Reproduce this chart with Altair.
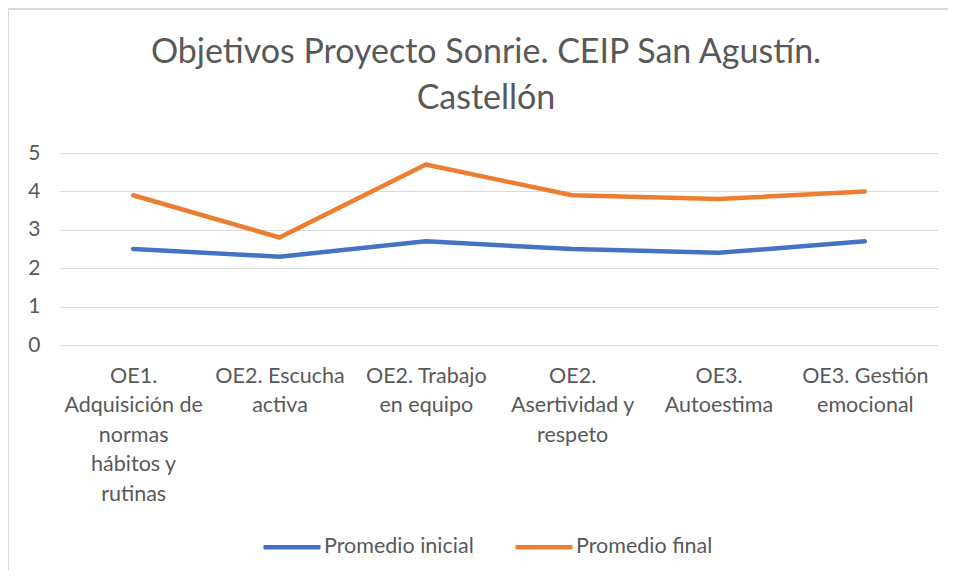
import altair as alt
import pandas as pd

categories = [
    "OE1. Adquisición de normas hábitos y rutinas",
    "OE2. Escucha activa",
    "OE2. Trabajo en equipo",
    "OE2. Asertividad y respeto",
    "OE3. Autoestima",
    "OE3. Gestión emocional",
]
label_lines = [
    ["OE1.", "Adquisición de", "normas", "hábitos y", "rutinas"],
    ["OE2. Escucha", "activa"],
    ["OE2. Trabajo", "en equipo"],
    ["OE2.", "Asertividad y", "respeto"],
    ["OE3.", "Autoestima"],
    ["OE3. Gestión", "emocional"],
]
series_names = ["Promedio inicial", "Promedio final"]
promedio_inicial = [2.5, 2.3, 2.7, 2.5, 2.4, 2.7]
promedio_final = [3.9, 2.8, 4.7, 3.9, 3.8, 4.0]
colors = ["#4472C4", "#ED7D31"]

rows = []
for i, c in enumerate(categories):
    rows.append({"cat": c, "serie": series_names[0], "valor": promedio_inicial[i], "order": i})
    rows.append({"cat": c, "serie": series_names[1], "valor": promedio_final[i], "order": i})
df = pd.DataFrame(rows)

mapping = "{" + ", ".join(
    "'" + c + "': [" + ", ".join("'" + l + "'" for l in lines) + "]"
    for c, lines in zip(categories, label_lines)
) + "}"
label_expr = mapping + "[datum.label]"

FONT = "Lato"
GRAY = "#595959"
BORDER = "#D9D9D9"

lines = alt.Chart(df).mark_line(strokeWidth=4.5, strokeCap="round", strokeJoin="round").encode(
    x=alt.X("cat:N", sort=categories, title=None,
            scale=alt.Scale(type="point", padding=0.5),
            axis=alt.Axis(labelExpr=label_expr, labelAngle=0, labelFontSize=21.5,
                          labelLineHeight=29.5, labelPadding=20, ticks=False,
                          domain=False, grid=False, labelColor=GRAY, labelFont=FONT)),
    y=alt.Y("valor:Q", title=None,
            scale=alt.Scale(domain=[0, 5], nice=False),
            axis=alt.Axis(values=[0, 1, 2, 3, 4, 5], labelFontSize=21, labelPadding=20,
                          ticks=False, domain=False, gridColor="#D9D9D9", gridWidth=1,
                          labelColor=GRAY, labelFont=FONT)),
    color=alt.Color("serie:N", sort=series_names,
                    scale=alt.Scale(domain=series_names, range=colors),
                    legend=alt.Legend(title=None, orient="none", direction="horizontal",
                                      legendX=201, legendY=363, symbolType="stroke",
                                      symbolSize=3249, symbolStrokeWidth=4.5,
                                      labelFontSize=21.5, labelColor=GRAY, labelFont=FONT,
                                      columnPadding=32, labelOffset=1)),
    detail="serie:N",
    order="order:Q",
)

frame_data = alt.Data(values=[{"k": 1}])
border_top = alt.Chart(frame_data).mark_rule(color=BORDER, strokeWidth=2, clip=False).encode(
    x=alt.value(-52), x2=alt.value(900), y=alt.value(-144)
)
border_left = alt.Chart(frame_data).mark_rule(color=BORDER, strokeWidth=2, clip=False).encode(
    x=alt.value(-52), y=alt.value(-144), y2=alt.value(430)
)

chart = alt.layer(lines, border_top, border_left).properties(
    width=878,
    height=192,
    title=alt.Title(["Objetivos Proyecto Sonrie. CEIP San Agustín.", "Castellón"],
                    fontSize=34, font=FONT, color=GRAY, fontWeight="normal",
                    anchor="middle", lineHeight=46, offset=31, dy=139, dx=-13),
    autosize=alt.AutoSizeParams(type="none"),
    padding={"left": 52, "top": 145, "right": 10, "bottom": 225},
    background="white",
).configure_view(strokeWidth=0, stroke=None)

chart.save("out.html", embed_options={"renderer": "svg", "actions": False})
